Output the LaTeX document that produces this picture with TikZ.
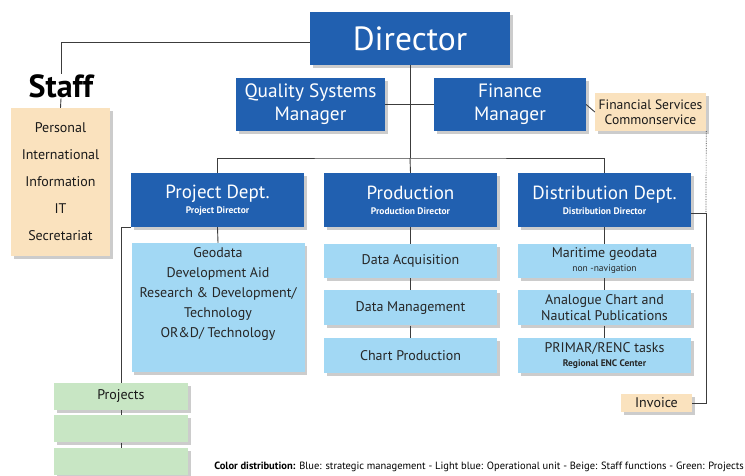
\documentclass[tikz,border=0pt]{standalone}
\usepackage{fontspec}
\setmainfont{PT Sans}
\usetikzlibrary{positioning,shadows}
\definecolor{mgmtblue}{RGB}{33,96,176}
\definecolor{opblue}{RGB}{162,216,244}
\definecolor{staffbeige}{RGB}{250,226,190}
\definecolor{projgreen}{RGB}{200,230,196}
\definecolor{linegray}{RGB}{60,60,60}
\newcommand{\boxgap}{12pt}
\newcommand{\deptlabel}[2]{{\fontsize{19}{20}\selectfont #1}\\[3pt]{\fontsize{9.5}{10}\selectfont\bfseries #2}}

\begin{document}
\begin{tikzpicture}[x=1pt,y=-1pt,
    shade/.style={drop shadow={shadow xshift=2.5pt,shadow yshift=-3pt,opacity=.4}},
    mgmt/.style={shade,fill=mgmtblue,text=white,align=center,inner sep=2pt},
    dept/.style={mgmt,minimum width=173pt,minimum height=54pt},
    opbox/.style={shade,fill=opblue,text=black!85,align=center,inner sep=1pt,
        minimum width=173pt,font=\fontsize{14}{17}\selectfont},
    staffbox/.style={shade,fill=staffbeige,text=black!90,align=center,inner sep=1pt},
    projbox/.style={shade,fill=projgreen,text=black!90,minimum width=134pt,minimum height=27pt,
        inner sep=1pt,font=\fontsize{14}{15}\selectfont},
    link/.style={draw=linegray,line width=0.9pt}]
    %\draw[help lines] (0,0) grid[step=50] (745,475);
    \useasboundingbox (0,0) rectangle (745,475);
    % top level
    \node[mgmt,minimum width=200pt,minimum height=53pt,font=\fontsize{33.5}{34}\selectfont] (dir) at (410,38.5) {Director};
    \node[mgmt,minimum width=149pt,minimum height=53pt,font=\fontsize{19.3}{23}\selectfont] (qsm) at (310.5,104.5) {Quality Systems\\Manager};
    \node[mgmt,minimum width=152pt,minimum height=53pt,font=\fontsize{19.3}{23}\selectfont] (fin) at (510,104.5) {Finance\\Manager};
    \node[staffbox,minimum width=111pt,minimum height=38pt,font=\fontsize{13.6}{15}\selectfont] (fserv) at (650.5,112) {Financial Services\\Commonservice};
    % staff
    \node[staffbox,minimum width=99pt,minimum height=148pt,font=\fontsize{14}{27}\selectfont] (staffbox) at (60.5,182)
        {Personal\\International\\Information\\IT\\Secretariat};
    \node[fill=white,inner sep=0.5pt,font=\fontsize{32}{34}\selectfont\bfseries] (staff) at (61,86) {Staff};
    % departments
    \node[dept] (proj) at (217.5,200) {\deptlabel{Project Dept.}{Project Director}};
    \node[dept] (prod) at (410.5,200) {\deptlabel{Production}{Production Director}};
    \node[dept] (dist) at (604.5,200) {\deptlabel{Distribution Dept.}{Distribution Director}};
    % project dept
    \node[opbox,minimum height=129pt] (geo) at (218,307.5) {};
    \node[below=5pt of geo.north,anchor=north,align=center,inner sep=0pt,text=black!85,
        font=\fontsize{14}{19.8}\selectfont] (geotxt)
        {Geodata\\Development Aid\\Research \& Development/\\Technology\\OR\&D/ Technology};
    % production
    \node[opbox,minimum height=34pt] (acq) at (410.5,261) {Data Acquisition};
    \node[opbox,minimum height=35pt,below=\boxgap of acq] (dman) {Data Management};
    \node[opbox,minimum height=35pt,below=\boxgap of dman] (chart) {Chart Production};
    % distribution
    \node[opbox,minimum height=34pt] (mgeo) at (604.5,261) {Maritime geodata\\[-3pt]{\fontsize{9.5}{10}\selectfont non -navigation}};
    \node[opbox,minimum height=35pt,below=\boxgap of mgeo] (analog) {Analogue Chart and\\[-1pt]Nautical Publications};
    \node[opbox,minimum height=35pt,below=\boxgap of analog] (primar) {PRIMAR/RENC tasks\\[-3pt]{\fontsize{9.5}{10}\selectfont\bfseries Regional ENC Center}};
    % projects
    \node[projbox] (p1) at (121,396.5) {Projects};
    \node[projbox,below=5pt of p1] (p2) {};
    \node[projbox,below=5pt of p2] (p3) {};
    \node[staffbox,minimum width=71pt,minimum height=18pt,font=\fontsize{14}{15}\selectfont] (inv) at (656.5,403) {Invoice};
    % legend
    \node[anchor=east,inner sep=0pt,font=\fontsize{10.5}{11}\selectfont] (legend) at (744,467)
        {\textbf{Color distribution:} Blue: strategic management - Light blue: Operational unit - Beige: Staff functions - Green: Projects};
    % connectors
    \coordinate (trunk) at (410,158);
    \coordinate (dcorner) at (706,213);
    \draw[link] ([yshift=-4pt]dir.west) -| (staff.north);
    \draw[link] (staff.south) -- (staffbox.north);
    \draw[link] (dir.south) -- (trunk);
    \draw[link] (qsm.east) -- (fin.west);
    \draw[link] (proj.north) |- (trunk) -| (dist.north);
    \draw[link] (trunk) -- (prod.north);
    \draw[link] (fin.east) -- (fserv.west);
    \draw[linegray,densely dotted,line width=0.7pt] (fserv.south east) -- (dcorner);
    \draw[link] (dist.east |- dcorner) -- (dcorner) |- (inv.east);
    \draw[link] (proj.south) -- (geo.north);
    \draw[link] (prod.south) -- (acq.north);
    \draw[link] (acq.south) -- (dman.north);
    \draw[link] (dman.south) -- (chart.north);
    \draw[link] (dist.south) -- (mgeo.north);
    \draw[link] (mgeo.south) -- (analog.north);
    \draw[link] (analog.south) -- (primar.north);
    \draw[link] (proj.south west) -| (p1.north);
    \draw[link] (p1.south) -- (p2.north);
    \draw[link] (p2.south) -- (p3.north);
\end{tikzpicture}
\end{document}
